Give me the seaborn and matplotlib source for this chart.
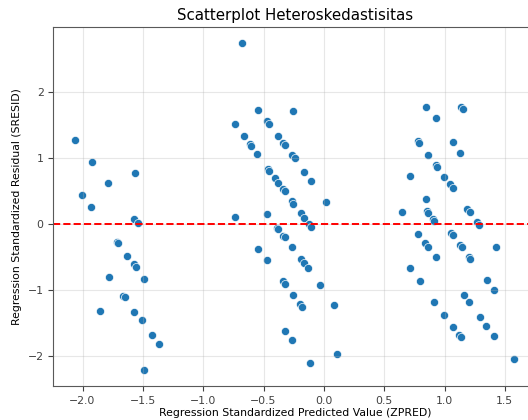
import matplotlib
matplotlib.use('Agg')

import pandas as pd
import matplotlib.pyplot as plt
import seaborn as sns

# predicted (ZPRED) and residual (SRESID) values
zpred_left = [-2.06, -2.001, -1.918, -1.93, -1.79, -1.562, -1.571, -1.543, -1.711, -1.706,
              -1.629, -1.57, -1.555, -1.781, -1.488, -1.662, -1.648, -1.852, -1.571, -1.51,
              -1.425, -1.364, -1.491]
sresid_left = [1.275, 0.44, 0.936, 0.263, 0.627, 0.774, 0.071, 0.01, -0.268, -0.293,
               -0.486, -0.61, -0.655, -0.80, -0.835, -1.093, -1.118, -1.32, -1.335, -1.457,
               -1.69, -1.831, -2.215]

zpred_mid = [-0.675, -0.543, -0.739, -0.471, -0.454, -0.253, -0.661, -0.377, -0.614, -0.6,
             -0.557, -0.338, -0.325, -0.267, -0.242, -0.165, -0.107, -0.46, -0.452, -0.408,
             -0.377, -0.338, -0.322, -0.267, -0.253, 0.02, -0.193, -0.165, -0.121, -0.107,
             -0.739, -0.471, -0.392, -0.384, -0.338, -0.325, -0.267, -0.543, -0.471, -0.193,
             -0.165, -0.129, -0.338, -0.322, -0.036, -0.253, -0.198, -0.179, 0.083, -0.319,
             -0.267, 0.105, -0.118]
sresid_mid = [2.746, 1.730, 1.517, 1.558, 1.513, 1.72, 1.34, 1.335, 1.214, 1.179,
              1.057, 1.224, 1.194, 1.047, 1.0, 0.784, 0.652, 0.835, 0.80, 0.693,
              0.617, 0.531, 0.496, 0.349, 0.308, 0.334, 0.172, 0.091, 0.005, -0.046,
              0.106, 0.147, -0.066, -0.08, -0.177, -0.202, -0.349, -0.374, -0.551, -0.536,
              -0.587, -0.672, -0.865, -0.906, -0.921, -1.082, -1.219, -1.264, -1.229, -1.634,
              -1.76, -1.977, -2.12]

zpred_right = [0.849, 0.93, 1.139, 1.15, 0.778, 0.792, 0.864, 1.068, 1.131, 0.712,
               0.93, 0.938, 0.998, 1.045, 1.068, 0.849, 0.648, 0.853, 0.864, 0.902,
               0.916, 1.186, 1.214, 1.269, 1.288, 0.778, 0.841, 0.861, 0.927, 1.054,
               1.068, 1.131, 1.142, 1.205, 1.214, 1.426, 0.712, 0.795, 1.352, 1.41,
               0.916, 1.164, 1.205, 0.998, 1.291, 1.07, 1.343, 1.117, 1.136, 1.41,
               1.58]
sresid_right = [1.771, 1.604, 1.771, 1.74, 1.26, 1.224, 1.047, 1.24, 1.082, 0.728,
                0.895, 0.86, 0.713, 0.602, 0.541, 0.374, 0.182, 0.202, 0.172, 0.08,
                0.046, 0.232, 0.182, 0.03, -0.015, -0.152, -0.293, -0.344, -0.506, -0.141,
                -0.172, -0.319, -0.344, -0.496, -0.526, -0.354, -0.672, -0.875, -0.85, -1.006,
                -1.184, -1.088, -1.194, -1.386, -1.416, -1.563, -1.548, -1.689, -1.715, -1.705,
                -2.053]

df = pd.DataFrame({'ZPRED': zpred_left + zpred_mid + zpred_right,
                   'SRESID': sresid_left + sresid_mid + sresid_right})

fig = plt.figure(figsize=(5.28, 4.2), dpi=100)
ax = fig.add_axes([0.101, 0.081, 0.915, 0.855])

sns.scatterplot(data=df, x='ZPRED', y='SRESID', ax=ax, s=34)
ax.axhline(0, color='red', linestyle='--', linewidth=1.4)

ax.set_title('Scatterplot Heteroskedastisitas', fontsize=10.8, pad=5)
ax.set_xlabel('Regression Standardized Predicted Value (ZPRED)', fontsize=7.8, labelpad=2)
ax.set_ylabel('Regression Standardized Residual (SRESID)', fontsize=7.8)
ax.tick_params(labelsize=7.8, colors='0.25')
ax.grid(True, alpha=0.3)
for sp in ax.spines.values():
    sp.set_color('0.35')

fig.savefig('out.png', dpi=100)
